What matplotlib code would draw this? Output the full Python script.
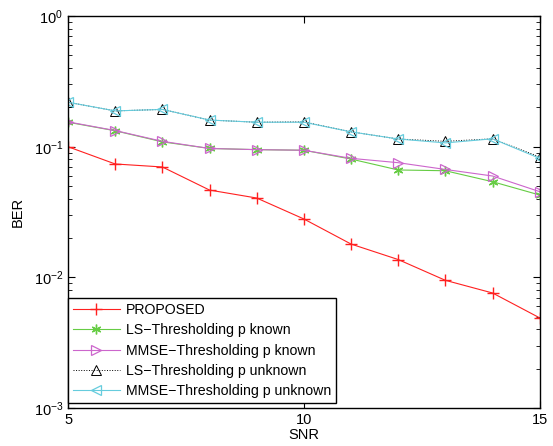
import matplotlib
matplotlib.use('Agg')
import matplotlib.pyplot as plt
from matplotlib.ticker import LogLocator, NullFormatter

plt.rcParams['font.family'] = ['Liberation Sans', 'DejaVu Sans']
plt.rcParams['mathtext.fontset'] = 'custom'
plt.rcParams['mathtext.rm'] = 'Liberation Sans'

snr = [5, 6, 7, 8, 9, 10, 11, 12, 13, 14, 15]
proposed = [0.100, 0.0738, 0.0700, 0.0466, 0.0405, 0.0280, 0.0180, 0.0137, 0.0095, 0.0076, 0.0049]
ls_known = [0.154, 0.1325, 0.109, 0.097, 0.095, 0.094, 0.0805, 0.0664, 0.0655, 0.054, 0.0427]
mmse_known = [0.155, 0.133, 0.110, 0.097, 0.095, 0.094, 0.0815, 0.0755, 0.067, 0.0597, 0.0453]
ls_unknown = [0.219, 0.188, 0.193, 0.160, 0.154, 0.155, 0.130, 0.1146, 0.110, 0.115, 0.0835]
mmse_unknown = [0.219, 0.188, 0.193, 0.160, 0.154, 0.154, 0.130, 0.1146, 0.107, 0.115, 0.0815]

labels = ['PROPOSED', 'LS\u2212Thresholding p known', 'MMSE\u2212Thresholding p known',
          'LS\u2212Thresholding p unknown', 'MMSE\u2212Thresholding p unknown']

fig = plt.figure(figsize=(5.53, 4.46), dpi=100)
ax = fig.add_axes([0.123, 0.085, 0.853, 0.879])

asterisk = (6, 2, 0)
ax.semilogy(snr, proposed, color='#ff2020', marker='+', ms=8, lw=0.8, label=labels[0])
ax.semilogy(snr, ls_known, color='#66cc44', marker=asterisk, ms=7, lw=0.8, label=labels[1])
ax.semilogy(snr, mmse_known, color='#cc66cc', marker='>', ms=7.5, mfc='none', mew=0.9, lw=0.8, label=labels[2])
ax.semilogy(snr, ls_unknown, color='black', ls=':', marker='^', ms=7.5, mfc='none', mew=0.7, lw=0.7, label=labels[3])
ax.semilogy(snr, mmse_unknown, color='#66ccdd', marker='<', ms=7.5, mfc='none', mew=0.9, lw=0.8, label=labels[4])

ax.set_xlim(5, 15)
ax.set_ylim(1e-3, 1)
ax.set_xticks([5, 10, 15])
ax.yaxis.set_major_locator(LogLocator(base=10, numticks=10))
ax.yaxis.set_minor_locator(LogLocator(base=10, subs=range(2, 10), numticks=10))
ax.yaxis.set_minor_formatter(NullFormatter())
ax.tick_params(which='both', direction='in', top=True, right=True, labelsize=10.5)
ax.tick_params(which='major', length=5)
ax.tick_params(which='minor', length=3)
for s in ax.spines.values():
    s.set_linewidth(1.0)

ax.set_xlabel('SNR', fontsize=10.5, labelpad=1)
ax.set_ylabel('BER', fontsize=10.5, labelpad=6)

leg = ax.legend(loc='lower left', bbox_to_anchor=(0, 0.012), fontsize=10.2, fancybox=False,
                edgecolor='black', framealpha=1, borderaxespad=0, handlelength=3.3,
                labelspacing=0.45, borderpad=0.35, handletextpad=0.45, numpoints=1)
leg.get_frame().set_linewidth(1.0)

fig.savefig('out.png', dpi=100)
